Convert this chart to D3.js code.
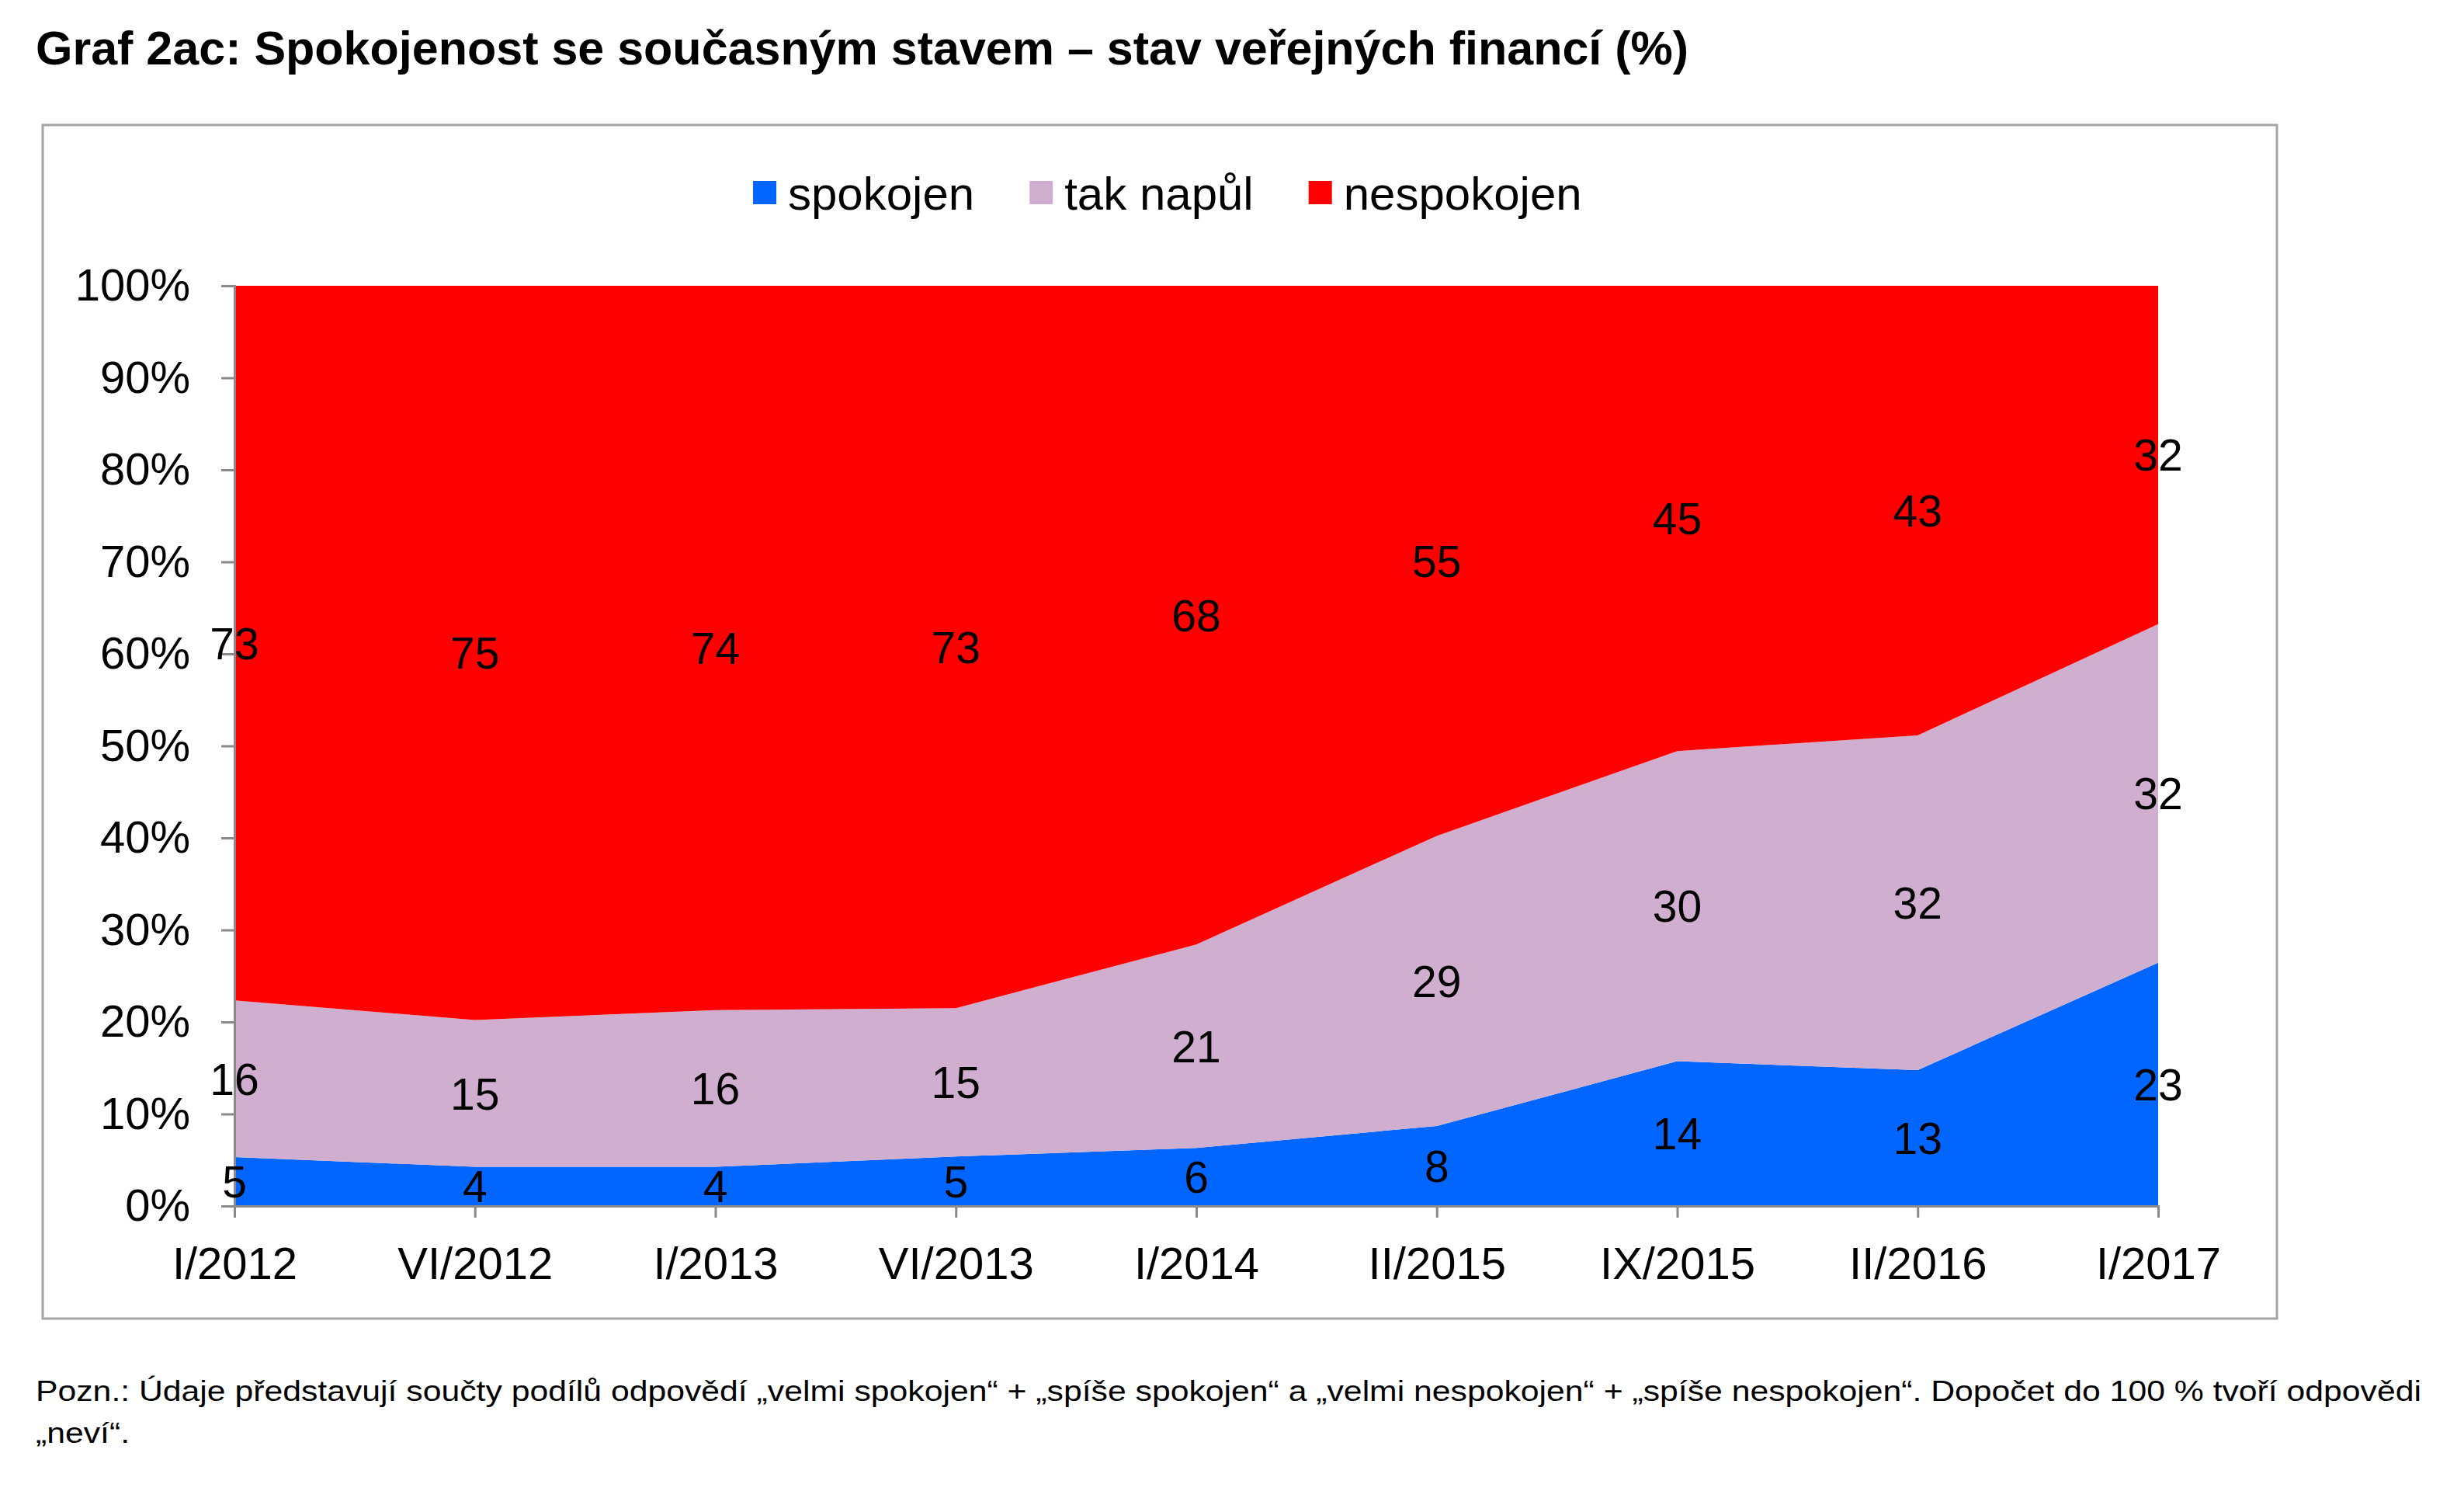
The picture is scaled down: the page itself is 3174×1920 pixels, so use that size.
<!DOCTYPE html>
<html>
<head>
<meta charset="utf-8">
<script src="https://cdn.jsdelivr.net/npm/d3@7"></script>
<style>
  html, body { margin: 0; padding: 0; background: #ffffff; }
  svg { display: block; }
  text { font-family: "Liberation Sans", Arial, Helvetica, sans-serif; }
</style>
</head>
<body>
<svg id="chart" width="3174" height="1920"></svg>
<script>
// ---- data ----
const categories = ["I/2012", "VI/2012", "I/2013", "VI/2013", "I/2014", "II/2015", "IX/2015", "II/2016", "I/2017"];
const spokojen   = [5, 4, 4, 5, 6, 8, 14, 13, 23];
const takNapul   = [16, 15, 16, 15, 21, 29, 30, 32, 32];
const nespokojen = [73, 75, 74, 73, 68, 55, 45, 43, 32];
const seriesNames = ["spokojen", "tak napůl", "nespokojen"];
const seriesColors = ["#0066ff", "#d0aed0", "#ff0000"];
const yTickValues = [0, 0.1, 0.2, 0.3, 0.4, 0.5, 0.6, 0.7, 0.8, 0.9, 1.0];
const titleText = "Graf 2ac: Spokojenost se současným stavem – stav veřejných financí (%)";
const noteLine1 = "Pozn.: Údaje představují součty podílů odpovědí „velmi spokojen“ + „spíše spokojen“ a „velmi nespokojen“ + „spíše nespokojen“. Dopočet do 100 % tvoří odpovědi";
const noteLine2 = "„neví“.";

const seriesValues = [spokojen, takNapul, nespokojen];
const rows = categories.map((c, i) => {
  const r = { cat: c };
  seriesNames.forEach((s, k) => r[s] = seriesValues[k][i]);
  return r;
});

const svg = d3.select("#chart");

// background
svg.append("rect").attr("width", 3174).attr("height", 1920).attr("fill", "#ffffff");

// title
svg.append("text")
  .attr("x", 46).attr("y", 83)
  .attr("font-size", 61).attr("font-weight", "bold").attr("fill", "#000")
  .text(titleText);

// chart frame
svg.append("rect")
  .attr("x", 55).attr("y", 161).attr("width", 2878).attr("height", 1537)
  .attr("fill", "#fff").attr("stroke", "#a4a4a4").attr("stroke-width", 3);

// scales
const plot = { left: 302, right: 2780, top: 368, bottom: 1553 };
const x = d3.scalePoint().domain(categories).range([plot.left, plot.right]);
const y = d3.scaleLinear().domain([0, 1]).range([plot.bottom, plot.top]);
const color = d3.scaleOrdinal().domain(seriesNames).range(seriesColors);

const stack = d3.stack().keys(seriesNames).offset(d3.stackOffsetExpand);
const stacked = stack(rows);

const area = d3.area()
  .x(d => x(d.data.cat))
  .y0(d => y(d[0]))
  .y1(d => y(d[1]));

svg.append("g").selectAll("path")
  .data(stacked)
  .join("path")
  .attr("d", area)
  .attr("fill", d => color(d.key));

// axes
const yAxis = d3.axisLeft(y).tickValues(yTickValues).tickFormat(d3.format(".0%")).tickSize(17).tickPadding(40);
const gy = svg.append("g").attr("transform", `translate(${plot.left},0)`).call(yAxis);
gy.selectAll("text").attr("font-size", 58).attr("fill", "#000").attr("font-family", "Liberation Sans, Arial, sans-serif");

const xAxis = d3.axisBottom(x).tickSize(15).tickPadding(38);
const gx = svg.append("g").attr("transform", `translate(0,${plot.bottom})`).call(xAxis);
gx.selectAll("text").attr("font-size", 58).attr("fill", "#000").attr("font-family", "Liberation Sans, Arial, sans-serif");

[gx, gy].forEach(g => {
  g.selectAll("path.domain").attr("stroke", "#8a8a8a").attr("stroke-width", 3);
  g.selectAll(".tick line").attr("stroke", "#8a8a8a").attr("stroke-width", 3);
});

// data labels
const labelG = svg.append("g");
stacked.forEach(layer => {
  labelG.selectAll(null)
    .data(layer)
    .join("text")
    .attr("x", d => x(d.data.cat))
    .attr("y", d => y((d[0] + d[1]) / 2))
    .attr("dy", "0.36em")
    .attr("text-anchor", "middle")
    .attr("font-size", 57)
    .attr("fill", "#000")
    .text(d => d.data[layer.key]);
});

// legend
const legend = svg.append("g");
let lx = 970;
seriesNames.forEach((s, i) => {
  legend.append("rect").attr("x", lx).attr("y", 233).attr("width", 30).attr("height", 30).attr("fill", seriesColors[i]);
  const t = legend.append("text").attr("x", lx + 45).attr("y", 270).attr("font-size", 60).attr("fill", "#000").text(s);
  lx += 45 + t.node().getComputedTextLength() + 71;
});

// footnote
const n1 = svg.append("text").attr("x", 46).attr("y", 1804).attr("font-size", 36).attr("fill", "#000").text(noteLine1);
const nat1 = n1.node().getComputedTextLength();
const ratio = 3073 / nat1;
n1.attr("textLength", 3073).attr("lengthAdjust", "spacingAndGlyphs");
const n2 = svg.append("text").attr("x", 46).attr("y", 1858).attr("font-size", 36).attr("fill", "#000").text(noteLine2);
const nat2 = n2.node().getComputedTextLength();
n2.attr("textLength", nat2 * ratio).attr("lengthAdjust", "spacingAndGlyphs");
</script>
</body>
</html>
